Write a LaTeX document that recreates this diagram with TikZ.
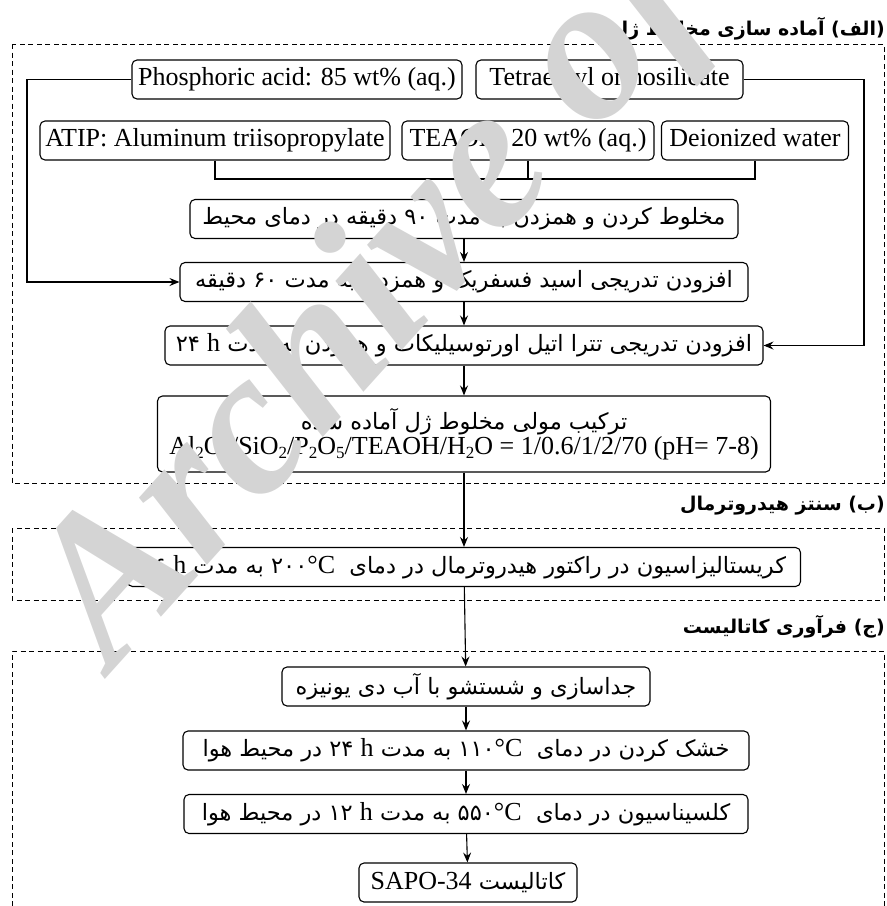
\documentclass[tikz,border=0pt]{standalone}
\usepackage{fontspec}
\setmainfont{Liberation Serif}
\newfontfamily\fa[Script=Arabic]{DejaVu Sans}
\newfontfamily\lat{Liberation Serif}
\usetikzlibrary{arrows.meta}
\TeXXeTstate=1
\newcommand\fat[1]{{\fa\fontsize{22.5}{26}\selectfont\beginR #1\endR}}
\newcommand\fatb[1]{{\fa\bfseries\fontsize{19}{24}\selectfont\beginR #1\endR}}
\newcommand\lt[1]{{\lat\fontsize{26}{30}\selectfont #1}}
\newcommand\sbs[1]{\raisebox{-0.35ex}{\fontsize{17}{17}\selectfont #1}}
\newcommand\tmpC[1]{\beginL{\fa #1}{\lat\fontsize{26}{30}\selectfont °C}\endL}
\begin{document}
\begin{tikzpicture}[x=1pt,y=-1pt,
  box/.style={draw, line width=1.1pt, rounded corners=5pt, minimum height=39pt, inner sep=0pt, align=center},
  inbox/.style={box, text height=18pt, text depth=6pt},
  ln/.style={line width=1.1pt},
  arr/.style={line width=1.1pt, -{Stealth[length=10pt,width=8pt,inset=3.5pt]}},
  grp/.style={draw, line width=0.9pt, dash pattern=on 5pt off 3.5pt},
  ttl/.style={anchor=east, inner sep=0pt},
  wmark/.style={anchor=base west, rotate=48, inner sep=0pt, text=black!17,
     font=\lat\bfseries\itshape\fontsize{208}{208}\selectfont}]
\useasboundingbox (0,0) rectangle (887,906);
% group frames
\draw[grp] (12,44) rectangle (884,483);
\draw[grp] (12,528) rectangle (884,600);
\draw[grp] (12,906) -- (12,651) -- (884,651) -- (884,906);
% titles
\node[ttl] (t1) at (885,29) {\fatb{(الف) آماده سازی مخلوط ژل}};
\node[ttl] (t2) at (885,506) {\fatb{(ب) سنتز هیدروترمال}};
\node[ttl] (t3) at (885,627) {\fatb{(ج) فرآوری کاتالیست}};
% inputs
\node[inbox, minimum width=330pt] (ph) at (297,79.5) {\lt{Phosphoric acid: 85 wt\% (aq.)}};
\node[inbox, minimum width=267pt] (te) at (609.5,79.5) {\lt{Tetraethyl orthosilicate}};
\node[inbox, minimum width=350pt] (at) at (215,140.5) {\lt{ATIP: Aluminum triisopropylate}};
\node[inbox, minimum width=252pt] (tea) at (528,140.5) {\lt{TEAOH: 20 wt\% (aq.)}};
\node[inbox, minimum width=187pt] (di) at (755,140.5) {\lt{Deionized water}};
% steps
\node[box, minimum width=548pt] (b1) at (464,219) {\fat{مخلوط کردن و همزدن به مدت ۹۰ دقیقه در دمای محیط}};
\node[box, minimum width=568pt] (b2) at (464,282) {\fat{افزودن تدریجی اسید فسفریک و همزدن به مدت ۶۰ دقیقه}};
\node[box, minimum width=598pt] (b3) at (464,345.5) {\fat{افزودن تدریجی تترا اتیل اورتوسیلیکات و همزدن به مدت \lt{h} ۲۴}};
\node[box, minimum width=613pt, minimum height=76pt] (b4) at (464,434) {\fat{ترکیب مولی مخلوط ژل آماده شده}\\[1pt]\lt{Al\sbs{2}O\sbs{3}/SiO\sbs{2}/P\sbs{2}O\sbs{5}/TEAOH/H\sbs{2}O = 1/0.6/1/2/70 (pH= 7-8)}};
\node[box, minimum width=673pt] (cr) at (464,567) {\fat{کریستالیزاسیون در راکتور هیدروترمال در دمای \ \tmpC{۲۰۰} به مدت \lt{h} ۳۶}};
\node[box, minimum width=368pt] (sep) at (466,686.5) {\fat{جداسازی و شستشو با آب دی یونیزه}};
\node[box, minimum width=566pt] (dry) at (466,750.5) {\fat{خشک کردن در دمای \ \tmpC{۱۱۰} به مدت \lt{h} ۲۴ در محیط هوا}};
\node[box, minimum width=564pt] (cal) at (466,814) {\fat{کلسیناسیون در دمای \ \tmpC{۵۵۰} به مدت \lt{h} ۱۲ در محیط هوا}};
\node[box, minimum width=218pt] (sapo) at (468,882.5) {\fat{کاتالیست \beginL\lt{SAPO-34}\endL}};
% collector
\coordinate (jA) at (215,179);
\coordinate (jD) at (755,179);
\coordinate (jT) at (528,179);
\coordinate (jm) at (464,179);
\draw[ln] (at.south) -- (jA) -- (jD) -- (di.south);
\draw[ln] (tea.south) -- (jT);
\draw[arr] (jm) -- (b1.north);
% side feeds
\coordinate (lc) at (27,79.5);
\coordinate (rc) at (864,79.5);
\draw[arr] (ph.west) -- (lc) |- (b2.west);
\draw[arr] (te.east) -- (rc) |- (b3.east);
% main chain
\draw[arr] (b1) -- (b2);
\draw[arr] (b2) -- (b3);
\draw[arr] (b3) -- (b4);
\draw[arr] (b4) -- (cr);
\draw[arr] (cr) -- (sep);
\draw[arr] (sep) -- (dry);
\draw[arr] (dry) -- (cal);
\draw[arr] (cal) -- (sapo);
% watermark
\node[wmark] (wm) at (112,672) {Archive of SID};
\end{tikzpicture}
\end{document}
